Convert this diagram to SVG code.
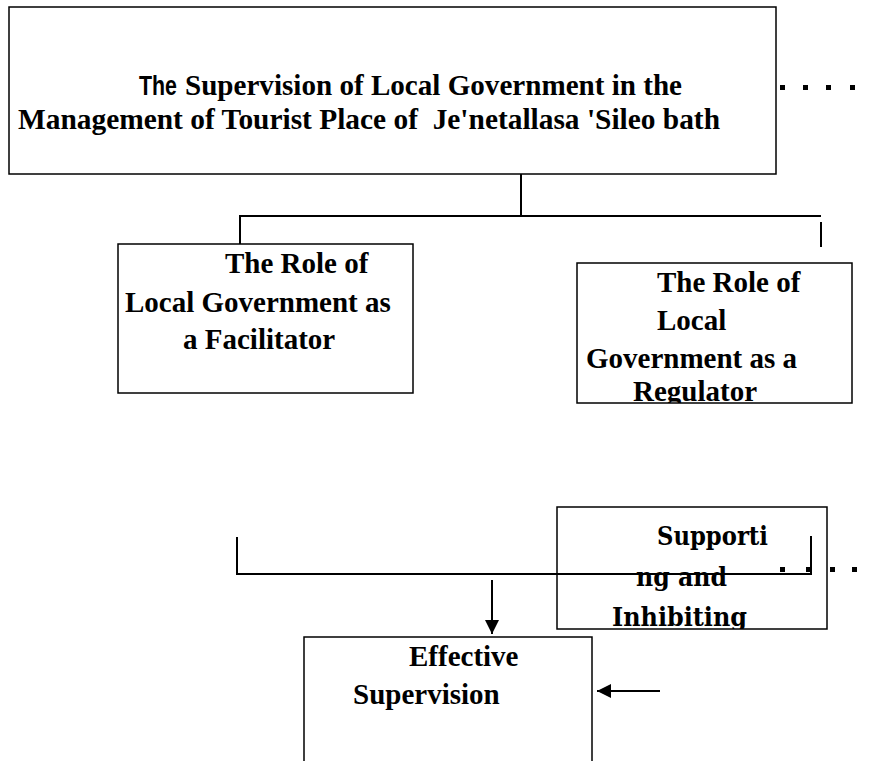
<svg xmlns="http://www.w3.org/2000/svg" width="871" height="761" viewBox="0 0 871 761">
<style>
.box{fill:#fff;stroke:#000;stroke-width:1.5}
.t{font-family:"Liberation Serif","Times New Roman",serif;font-weight:bold;font-size:29px;fill:#000}
.ts{font-family:"Liberation Sans",Arial,sans-serif;font-weight:bold;font-size:27px;fill:#000}
.tp{font-family:"DejaVu Serif","Liberation Serif",serif;font-weight:bold;font-size:26px;fill:#000}
.c{fill:none;stroke:#000;stroke-width:2}
.dot{fill:#000}
</style>
<defs>
<marker id="ah" viewBox="0 0 10 10" refX="10" refY="5" markerWidth="7.5" markerHeight="7" orient="auto" markerUnits="strokeWidth">
<path d="M0,0 L10,5 L0,10 Z" fill="#000"/>
</marker>
<clipPath id="clipReg"><rect x="577" y="263" width="275" height="140"/></clipPath>
<clipPath id="clipSup"><rect x="557" y="507" width="270" height="122"/></clipPath>
</defs>

<g id="top">
<rect class="box" x="9" y="7" width="767" height="167"/>
<text class="ts" x="139" y="95" textLength="38" lengthAdjust="spacingAndGlyphs">The</text>
<text class="t" x="185" y="95" textLength="497" lengthAdjust="spacingAndGlyphs">Supervision of Local Government in the</text>
<text class="t" x="18" y="129" textLength="702" lengthAdjust="spacingAndGlyphs" xml:space="preserve">Management of Tourist Place of  Je'netallasa 'Sileo bath</text>
</g>

<g id="facilitator">
<rect class="box" x="118" y="244" width="295" height="149"/>
<text class="t" x="225" y="273">The Role of</text>
<text class="t" x="125" y="312">Local Government as</text>
<text class="t" x="183" y="349">a Facilitator</text>
</g>

<g id="regulator">
<rect class="box" x="577" y="263" width="275" height="140"/>
<g clip-path="url(#clipReg)">
<text class="t" x="657" y="292">The Role of</text>
<text class="t" x="657" y="330">Local</text>
<text class="t" x="586" y="368">Government as a</text>
<text class="t" x="633" y="401">Regulator</text>
</g>
</g>

<g id="supporting">
<rect class="box" x="557" y="507" width="270" height="122"/>
<g clip-path="url(#clipSup)">
<text class="tp" x="657" y="545" textLength="111" lengthAdjust="spacingAndGlyphs">Supporti</text>
<text class="tp" x="636" y="586" textLength="91" lengthAdjust="spacingAndGlyphs">ng and</text>
<text class="tp" x="612" y="626" textLength="135" lengthAdjust="spacingAndGlyphs">Inhibiting</text>
</g>
</g>

<g id="effective">
<rect class="box" x="304" y="637" width="288" height="130"/>
<text class="t" x="409" y="666">Effective</text>
<text class="t" x="353" y="704">Supervision</text>
</g>

<g id="connectors">
<path class="c" d="M521,174 V216"/>
<path class="c" d="M240,244 V216 H821"/>
<path class="c" d="M821,222 V247"/>
<path class="c" d="M237,537 V574 H811 V536"/>
<path class="c" d="M492,580 V634" marker-end="url(#ah)"/>
<path class="c" d="M660,691 H597" marker-end="url(#ah)"/>
<g id="dots-top">
<rect class="dot" x="780" y="85" width="5" height="5"/>
<rect class="dot" x="803" y="85" width="5" height="5"/>
<rect class="dot" x="826" y="85" width="5" height="5"/>
<rect class="dot" x="850" y="85" width="5" height="5"/>
</g>
<g id="dots-bottom">
<rect class="dot" x="780" y="567" width="5" height="5"/>
<rect class="dot" x="806" y="567" width="5" height="5"/>
<rect class="dot" x="830" y="567" width="5" height="5"/>
<rect class="dot" x="852" y="567" width="5" height="5"/>
</g>
</g>
</svg>
